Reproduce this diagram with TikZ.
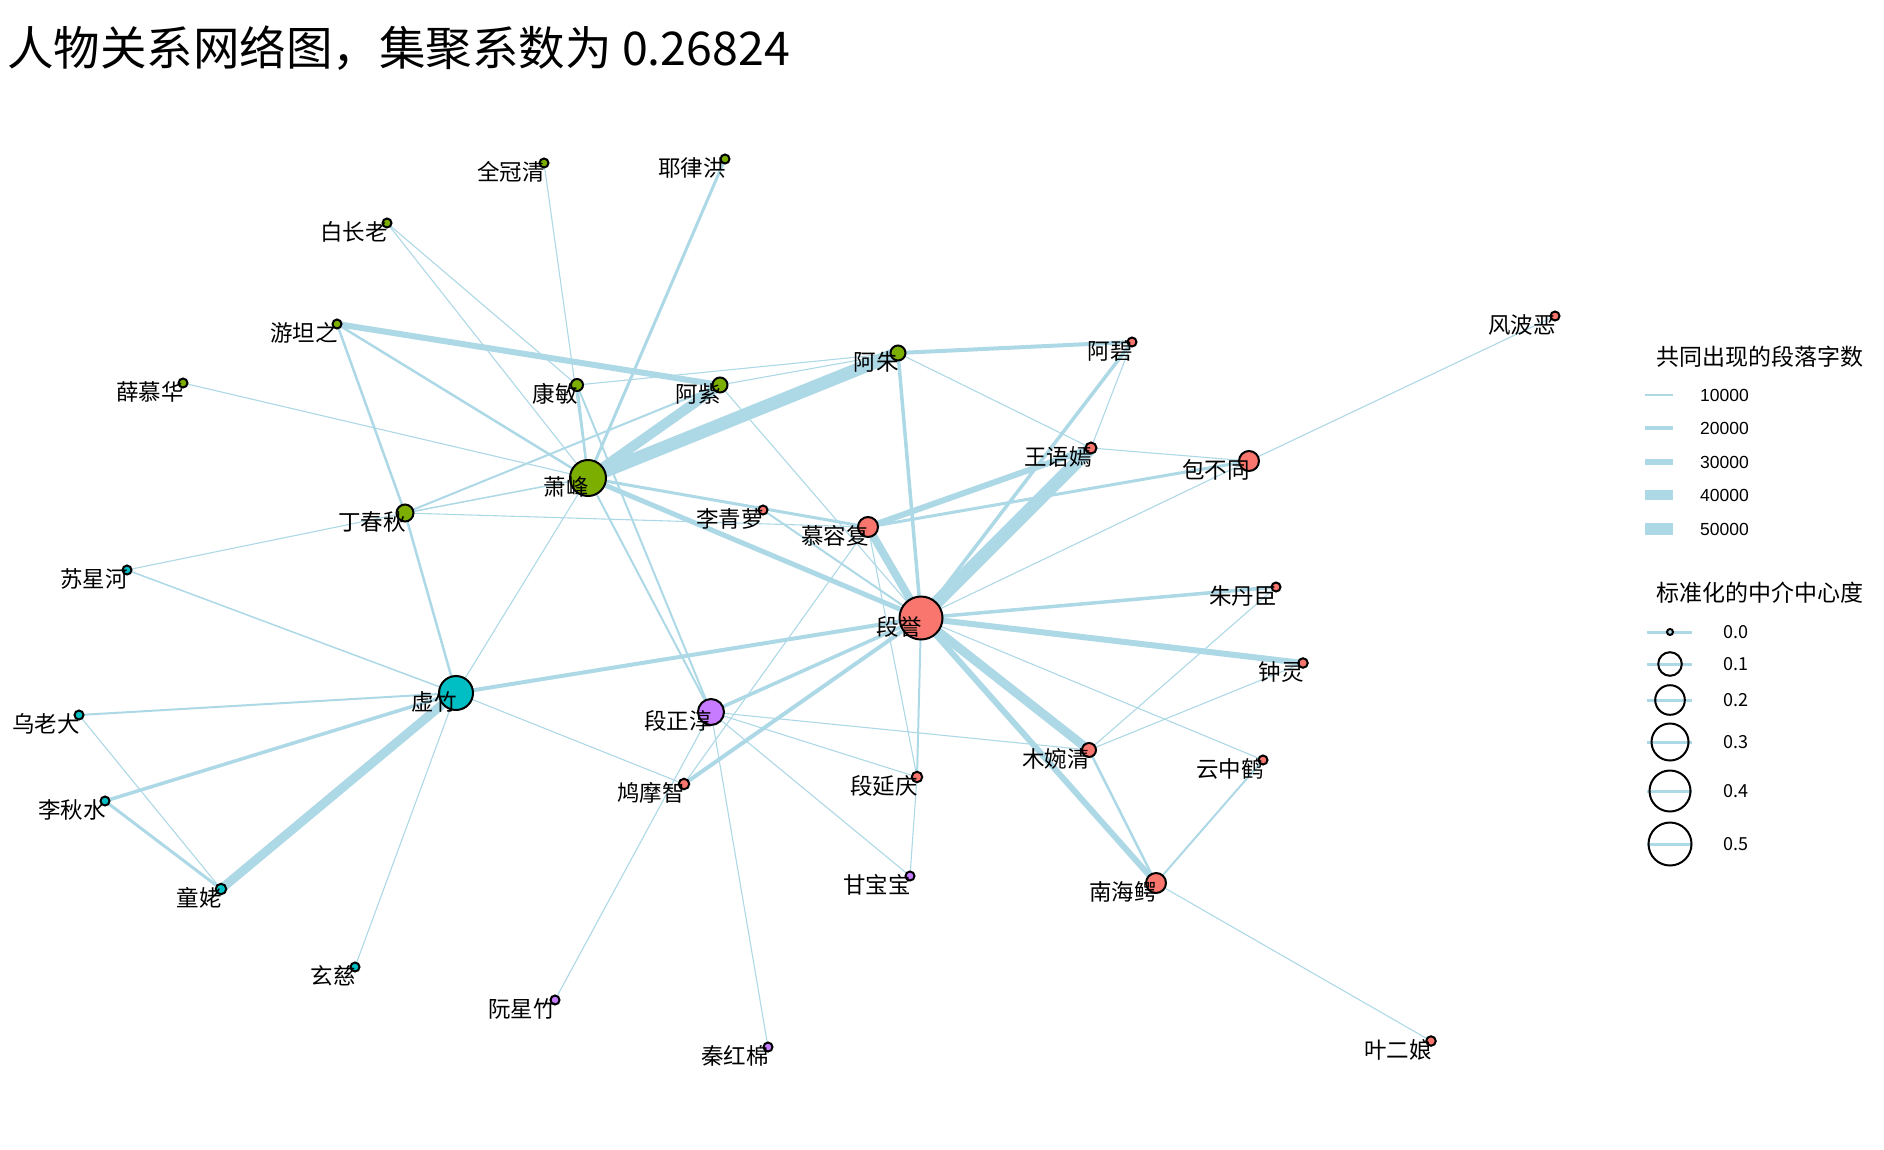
\documentclass[tikz,border=0pt]{standalone}
\usepackage{fontspec}
\setmainfont{Liberation Sans}
\newfontfamily\cjk{Noto Sans CJK SC}
\usetikzlibrary{backgrounds}
\definecolor{grpg}{HTML}{7CAE00}
\definecolor{grpr}{HTML}{F8766D}
\definecolor{grpc}{HTML}{00BFC4}
\definecolor{grpp}{HTML}{C77CFF}
\definecolor{linkblue}{HTML}{ADD8E6}

% name/x/y/diameter/colour/label
\def\people{qgq/544/163/9/grpg/全冠清, ylh/725/159/9/grpg/耶律洪,
  bzl/387/223/9/grpg/白长老, ytz/337/324/9/grpg/游坦之,
  xmh/183/383/9/grpg/薛慕华, km/577/385/12/grpg/康敏,
  az/720/385/15/grpg/阿紫, azhu/898/353/15/grpg/阿朱,
  xf/588/478/36/grpg/萧峰, dcq/405/513/17/grpg/丁春秋,
  lql/763/510/9/grpr/李青萝, mrf/868/527/20/grpr/慕容复,
  ab/1132/342/9/grpr/阿碧, wyy/1091/448/11/grpr/王语嫣,
  bbt/1249/461/20/grpr/包不同, fbe/1555/316/9/grpr/风波恶,
  dy/921/618/43/grpr/段誉, zdc/1276/587/9/grpr/朱丹臣,
  zl/1303/663/9.5/grpr/钟灵, mwq/1089/750/14/grpr/木婉清,
  yzh/1263/760/9/grpr/云中鹤, nhe/1156/883/20/grpr/南海鳄,
  yen/1431/1041/9.5/grpr/叶二娘, dyq/917/777/10.5/grpr/段延庆,
  jmz/684/784/10.5/grpr/鸠摩智,
  sxh/127/570/9/grpc/苏星河, xz/456/693/34/grpc/虚竹,
  wld/79/715/9/grpc/乌老大, lqs/105/801/9/grpc/李秋水,
  tl/221/889/10.5/grpc/童姥, xc/355/967/9/grpc/玄慈,
  dzc/711/712/26/grpp/段正淳, rxz/555/1000/9/grpp/阮星竹,
  qhm/768/1047/9/grpp/秦红棉, gbb/910/876/9/grpp/甘宝宝}

\begin{document}
\begin{tikzpicture}[x=1pt,y=-1pt,
    person/.style={circle,draw=black,line width=2pt,inner sep=0pt,minimum size=#1},
    tag/.style={anchor=east,inner sep=0pt,font=\cjk\fontsize{22.5}{24}\selectfont},
    link/.style={draw=linkblue,line width=#1},
    legtext/.style={anchor=west,inner sep=0pt}]
\useasboundingbox (0,0) rectangle (1884,1149);
\node[legtext,font=\cjk\fontsize{46.5}{50}\selectfont] (title) at (7,48) {人物关系网络图，集聚系数为 0.26824};

% people, then their names on top
\foreach \n/\x/\y/\d/\c/\t in \people
  \node[person=\d pt,fill=\c] (\n) at (\x,\y) {};
\foreach \n/\x/\y/\d/\c/\t in \people
  \node[tag] (\n-l) at (\x+1,\y+9) {\t};

% co-occurrence links
\begin{pgfonlayer}{background}
\foreach \a/\b/\w in {xf/azhu/13, dy/wyy/13, xf/az/10, xz/tl/9, dy/mwq/9,
    dy/mrf/8, ytz/az/6, mrf/wyy/6, dy/nhe/6, dy/zl/6, dy/xf/5, dy/xz/4,
    dy/jmz/4, azhu/ab/4, dy/zdc/3.5, dy/dzc/3.5, dy/azhu/3.5, dy/ab/3.5,
    xz/lqs/3.5, xf/mrf/3, xf/ylh/3, mrf/bbt/3, tl/lqs/3, ytz/xf/2.5,
    ytz/dcq/2.5, dcq/xz/2.5, km/xf/2.5, nhe/mwq/2.5, dcq/az/2, xf/dzc/2,
    km/dzc/2, lql/dy/2, dy/dyq/2, nhe/yzh/2, xz/wld/2, xz/sxh/1.5, dcq/xf/1.5,
    bzl/km/1.1, bzl/xf/1.1, xmh/xf/1.1, qgq/xf/1.1, km/azhu/1.1, az/azhu/1.1,
    az/dy/1.1, azhu/wyy/1.1, ab/wyy/1.1, wyy/bbt/1.1, bbt/fbe/1.1, bbt/dy/1.1,
    dcq/mrf/1.1, dcq/sxh/1.1, mrf/jmz/1.1, mrf/dyq/1.1, dy/yzh/1.1,
    dyq/gbb/1.1, dzc/gbb/1.1, dzc/rxz/1.1, dzc/qhm/1.1, dzc/mwq/1.1,
    dzc/dyq/1.1, xz/jmz/1.1, xz/xf/1.1, xz/xc/1.1, tl/wld/1.1, nhe/yen/1.1,
    mwq/zdc/1.1, mwq/zl/1.1}
  \draw[link=\w pt] (\a.center) -- (\b.center);
\end{pgfonlayer}

% legend: link width
\node[legtext,font=\cjk\fontsize{23}{25}\selectfont] (wtitle) at (1656,357) {共同出现的段落字数};
\foreach \v/\y/\w in {10000/395/1.1, 20000/428/3.3, 30000/462/6.5, 40000/495/9.3, 50000/529/12}{
  \draw[link=\w pt] (1645,\y) -- (1673,\y);
  \node[legtext,font=\fontsize{17.5}{19}\selectfont] (w\v) at (1700,\y) {\v};
}

% legend: betweenness
\node[legtext,font=\cjk\fontsize{23}{25}\selectfont] (btitle) at (1656,593) {标准化的中介中心度};
\foreach \v/\y/\r [count=\i] in {0.0/632/3, 0.1/664/11.8, 0.2/700/14.8, 0.3/742/18.5, 0.4/791/20.5, 0.5/844/21.5}{
  \draw[link=3pt] (1647,\y) -- (1692,\y);
  \draw[line width=2pt] (1670,\y) circle (\r pt);
  \node[legtext,font=\cjk\fontsize{18}{20}\selectfont] (b\i) at (1723,\y) {\v};
}
\end{tikzpicture}
\end{document}
